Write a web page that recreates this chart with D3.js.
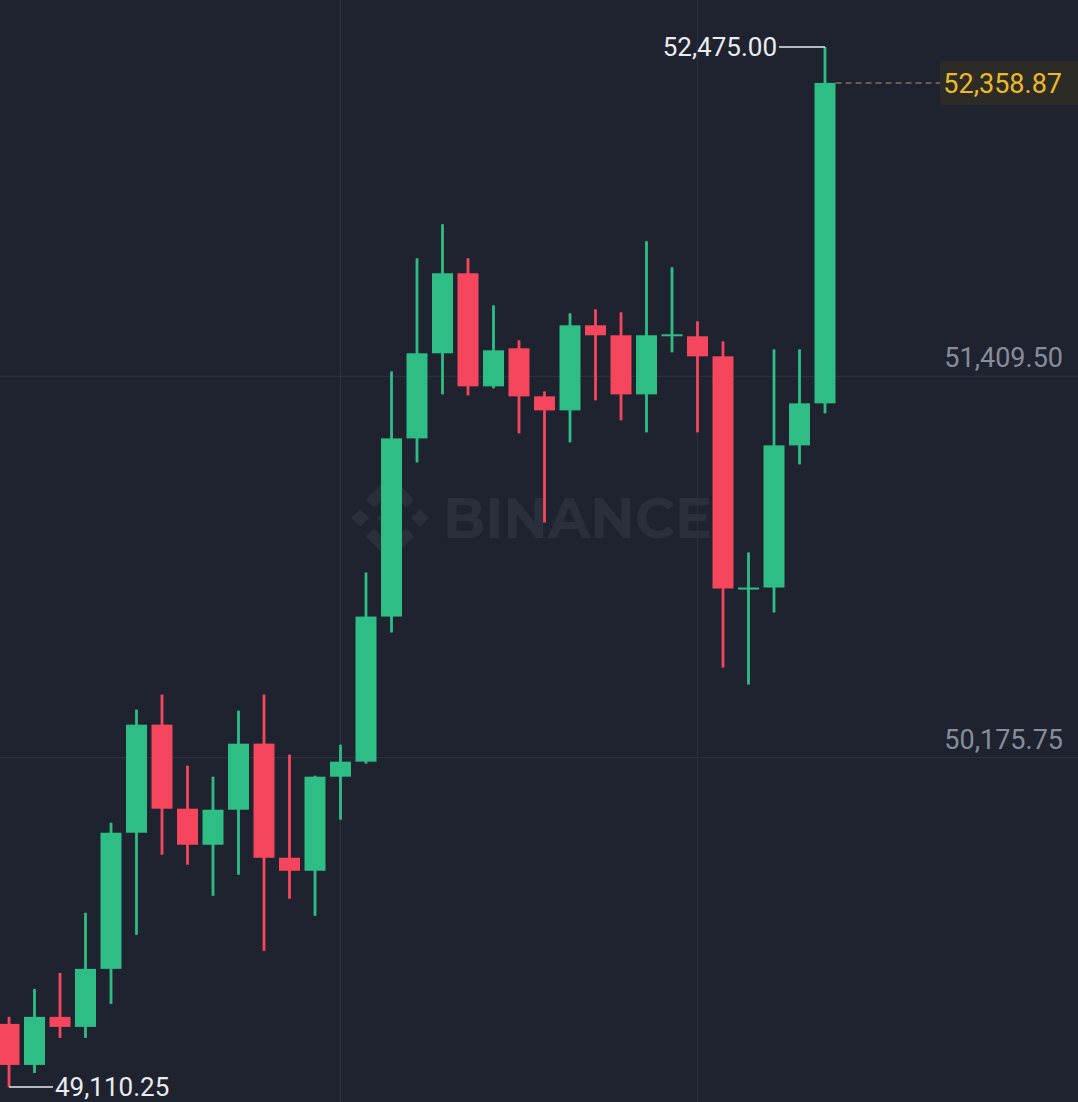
<!DOCTYPE html>
<html>
<head>
<meta charset="utf-8">
<script src="https://cdn.jsdelivr.net/npm/d3@7"></script>
<style>
  html, body { margin: 0; padding: 0; background: #1f2330; overflow: hidden; }
  svg { display: block; }
</style>
</head>
<body>
<div id="chart"></div>
<script>
// BTC/USDT candles - Binance dark style

// --- DATA ---
const opens  = [49314.4, 49181.6, 49337.1, 49304.7, 49492.5, 49932.9, 50282.6, 50010.6, 49894.0, 50007.4, 50221.1,
                49851.9, 49809.8, 50114.2, 50162.8, 50632.3, 51208.7, 51484.0, 51743.0, 51377.1, 51500.2, 51344.7,
                51299.4, 51574.6, 51542.3, 51351.2, 51542.3, 51539.0, 51474.3, 50723.0, 50726.2, 51186.1, 51322.1];
const highs  = [49337.1, 49427.7, 49479.5, 49673.8, 49965.3, 50331.2, 50379.8, 50149.8, 50114.2, 50327.9, 50379.8,
                50185.5, 50117.5, 50217.8, 50774.8, 51425.7, 51791.6, 51901.7, 51791.6, 51639.4, 51526.1, 51360.9,
                51613.5, 51626.5, 51616.7, 51846.7, 51762.5, 51587.6, 51522.8, 50839.6, 51496.9, 51496.9, 52475.00];
const lows   = [49110.25, 49155.7, 49269.0, 49269.0, 49379.1, 49602.6, 49861.6, 49829.3, 49728.9, 49796.9, 49550.8,
                49719.2, 49664.1, 49975.0, 50156.3, 50580.5, 51131.0, 51351.2, 51348.0, 51370.6, 51224.9, 50936.7,
                51195.8, 51331.8, 51267.0, 51228.2, 51487.2, 51228.2, 50467.2, 50412.1, 50645.3, 51124.5, 51289.7];
const closes = [49181.6, 49337.1, 49304.7, 49492.5, 49932.9, 50282.6, 50010.6, 49894.0, 50007.4, 50221.1, 49851.9,
                49809.8, 50114.2, 50162.8, 50632.3, 51208.7, 51484.0, 51743.0, 51377.1, 51493.7, 51344.7, 51299.4,
                51574.6, 51542.3, 51351.2, 51542.3, 51545.5, 51474.3, 50723.0, 50726.2, 51186.1, 51322.1, 52358.87];
const priceTicks = [50175.75, 51409.50];
const timeGrid = [13, 27];   // candle slots with a vertical gridline

const width = 1078;
const height = 1102;

const GREEN = "#2ebd85";
const RED = "#f6465d";

const candles = opens.map((o, i) => ({ i, o, h: highs[i], l: lows[i], c: closes[i] }));
const last = candles[candles.length - 1];

const svg = d3.select("#chart").append("svg")
    .attr("width", width).attr("height", height)
    .style("background", "#1f2330");

// --- SCALES ---
const x = d3.scaleLinear().domain([0, candles.length - 1]).range([9, 825]);
const y = d3.scaleLinear().domain([d3.min(lows), d3.max(highs)]).range([1087, 47]);
const bodyW = 21;
const fmt = d3.format(",.2f");

// --- GRID ---
svg.append("g").selectAll("line").data(priceTicks).join("line")
    .attr("x1", 0).attr("x2", width)
    .attr("y1", d => y(d)).attr("y2", d => y(d))
    .attr("stroke", "#2c313d").attr("stroke-width", 1.2);

svg.append("g").selectAll("line").data(timeGrid).join("line")
    .attr("x1", d => x(d)).attr("x2", d => x(d))
    .attr("y1", 0).attr("y2", height)
    .attr("stroke", "#2c313d").attr("stroke-width", 1.2);

// --- WATERMARK ---
const wm = svg.append("g").attr("fill", "#2b2f3b");
const logo = wm.append("g").attr("transform", "translate(390,518) scale(1.15)");
logo.append("rect").attr("x", -8).attr("y", -8).attr("width", 16).attr("height", 16).attr("transform", "rotate(45)");
[[-26, 0], [26, 0]].forEach(([dx, dy]) => {
    logo.append("rect").attr("x", -5.5).attr("y", -5.5).attr("width", 11).attr("height", 11)
        .attr("transform", `translate(${dx},${dy}) rotate(45)`);
});
logo.append("path").attr("d", "M0,-37 L21,-16 L14,-9 L0,-23 L-14,-9 L-21,-16 Z");
logo.append("path").attr("d", "M0,37 L21,16 L14,9 L0,23 L-14,9 L-21,16 Z");
wm.append("text")
    .attr("x", 443).attr("y", 538)
    .attr("font-family", "Montserrat, 'Open Sans', Roboto, sans-serif")
    .attr("font-weight", 700).attr("font-size", 56)
    .attr("textLength", 269).attr("lengthAdjust", "spacingAndGlyphs")
    .text("BINANCE");

// --- CANDLES ---
const cg = svg.append("g").selectAll("g").data(candles).join("g")
    .attr("fill", d => d.c >= d.o ? GREEN : RED)
    .attr("stroke", "none");

cg.append("rect")
    .attr("x", d => x(d.i) - 1.4).attr("width", 2.8)
    .attr("y", d => y(d.h)).attr("height", d => y(d.l) - y(d.h));

cg.append("rect")
    .attr("x", d => x(d.i) - bodyW / 2).attr("width", bodyW)
    .attr("y", d => y(Math.max(d.o, d.c)))
    .attr("height", d => Math.max(2, Math.abs(y(d.o) - y(d.c))));

// --- PRICE AXIS LABELS ---
const axis = svg.append("g")
    .attr("transform", "translate(1063,0)")
    .call(d3.axisLeft(y).tickValues(priceTicks).tickSize(0).tickPadding(0).tickFormat(fmt));
axis.select(".domain").remove();
axis.selectAll("text")
    .attr("y", -18)
    .attr("fill", "#868d9b")
    .attr("font-family", "Roboto, sans-serif").attr("font-size", 27);

// --- HIGH / LOW MARKERS ---
const hiIdx = highs.indexOf(d3.max(highs));
const loIdx = lows.indexOf(d3.min(lows));

svg.append("line")
    .attr("x1", x(hiIdx) - 46).attr("x2", x(hiIdx))
    .attr("y1", y(highs[hiIdx])).attr("y2", y(highs[hiIdx]))
    .attr("stroke", "#eaecef").attr("stroke-width", 1.5);
svg.append("text")
    .attr("x", x(hiIdx) - 48).attr("y", y(highs[hiIdx]) + 9)
    .attr("text-anchor", "end").attr("fill", "#eaecef")
    .attr("font-family", "Roboto, sans-serif").attr("font-size", 26)
    .text(fmt(highs[hiIdx]));

svg.append("line")
    .attr("x1", x(loIdx)).attr("x2", x(loIdx) + 44)
    .attr("y1", y(lows[loIdx])).attr("y2", y(lows[loIdx]))
    .attr("stroke", "#eaecef").attr("stroke-width", 1.5);
svg.append("text")
    .attr("x", x(loIdx) + 46).attr("y", y(lows[loIdx]) + 9)
    .attr("fill", "#eaecef")
    .attr("font-family", "Roboto, sans-serif").attr("font-size", 26)
    .text(fmt(lows[loIdx]));

// --- LAST PRICE ---
svg.append("line")
    .attr("x1", x(last.i) + bodyW / 2).attr("x2", 940)
    .attr("y1", y(last.c)).attr("y2", y(last.c))
    .attr("stroke", "#7d7459").attr("stroke-width", 1.5).attr("stroke-dasharray", "6,4");
svg.append("rect")
    .attr("x", 940).attr("y", y(last.c) - 22).attr("width", 150).attr("height", 44).attr("rx", 4)
    .attr("fill", "#2d2b25");
svg.append("text")
    .attr("x", 1062).attr("y", y(last.c) + 10)
    .attr("text-anchor", "end").attr("fill", "#ecb92a")
    .attr("font-family", "Roboto, sans-serif").attr("font-size", 27)
    .text(fmt(last.c));
</script>
</body>
</html>
